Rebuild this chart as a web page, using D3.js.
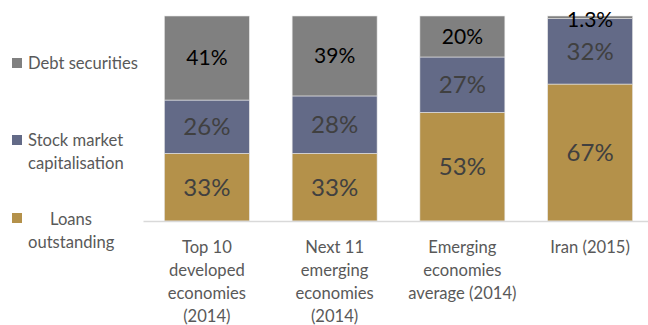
<!DOCTYPE html>
<html>
<head>
<meta charset="utf-8">
<script src="https://cdn.jsdelivr.net/npm/d3@7/dist/d3.min.js"></script>
<style>
  html, body { margin: 0; padding: 0; background: #fff; }
  svg { display: block; font-family: Lato, "Open Sans", "Noto Sans", sans-serif; }
</style>
</head>
<body>
<svg id="chart" width="648" height="325"></svg>
<script>
// Financing mix by economy group (shares of total, %)
const categories = [
  ["Top 10", "developed", "economies", "(2014)"],
  ["Next 11", "emerging", "economies", "(2014)"],
  ["Emerging", "economies", "average (2014)"],
  ["Iran (2015)"]
];
const seriesNames = ["Loans outstanding", "Stock market capitalisation", "Debt securities"];
const loans = [33, 33, 53, 67];
const stocks = [26, 28, 27, 32];
const debt = [41, 39, 20, 1.3];
const valueLabels = {
  loans: ["33%", "33%", "53%", "67%"],
  stocks: ["26%", "28%", "27%", "32%"],
  debt: ["41%", "39%", "20%", "1.3%"]
};

const keys = ["loans", "stocks", "debt"];
const colors = { loans: "#b4914a", stocks: "#636a87", debt: "#808080" };
const labelColors = { loans: "#404040", stocks: "#404040", debt: "#000000" };
const labelSizes = { loans: 24, stocks: 24, debt: 21 };

const rows = categories.map((c, i) => ({
  idx: i, loans: loans[i], stocks: stocks[i], debt: debt[i]
}));

const svg = d3.select("#chart");
const plot = { left: 143, right: 654, top: 16, bottom: 221 };

const x = d3.scaleBand()
  .domain(rows.map(d => d.idx))
  .range([plot.left, plot.right])
  .paddingInner(0.335)
  .paddingOuter(0.1675);

const y = d3.scaleLinear().domain([0, 1]).range([plot.bottom, plot.top]);

const stack = d3.stack().keys(keys).offset(d3.stackOffsetExpand);
const layers = stack(rows);

const g = svg.append("g");

layers.forEach(layer => {
  const k = layer.key;
  const lg = g.append("g");
  lg.selectAll("rect")
    .data(layer)
    .join("rect")
    .attr("x", d => x(d.data.idx))
    .attr("width", x.bandwidth())
    .attr("y", d => y(d[1]))
    .attr("height", d => y(d[0]) - y(d[1]))
    .attr("fill", colors[k])
    .attr("stroke", "#e6e6e6")
    .attr("stroke-width", 0.6);
  lg.selectAll("text")
    .data(layer)
    .join("text")
    .attr("x", d => x(d.data.idx) + x.bandwidth() / 2)
    .attr("y", d => {
      const mid = (y(d[0]) + y(d[1])) / 2;
      return Math.max(mid, plot.top + 4);
    })
    .attr("dy", "0.35em")
    .attr("text-anchor", "middle")
    .attr("font-size", labelSizes[k])
    .attr("fill", labelColors[k])
    .text(d => valueLabels[k][d.data.idx]);
});

// baseline axis
const xAxis = d3.axisBottom(x).tickSize(0).tickFormat("");
const ax = svg.append("g").attr("transform", `translate(0,${plot.bottom})`).call(xAxis);
ax.select(".domain").attr("stroke", "#d9d9d9").attr("stroke-width", 1.5);

// category labels
rows.forEach(d => {
  const t = svg.append("text")
    .attr("x", x(d.idx) + x.bandwidth() / 2)
    .attr("y", 253)
    .attr("text-anchor", "middle")
    .attr("font-size", 16.6)
    .attr("fill", "#595959");
  categories[d.idx].forEach((line, j) => {
    t.append("tspan")
      .attr("x", x(d.idx) + x.bandwidth() / 2)
      .attr("dy", j === 0 ? 0 : 23)
      .text(line);
  });
});

// legend
const legendItems = [
  { key: "debt", lines: [{ t: "Debt securities", x: 28, y: 69 }], sy: 58 },
  { key: "stocks", lines: [{ t: "Stock market", x: 28, y: 146 }, { t: "capitalisation", x: 28, y: 169 }], sy: 135 },
  { key: "loans", lines: [{ t: "Loans", x: 50, y: 225 }, { t: "outstanding", x: 28, y: 248 }], sy: 213 }
];
const leg = svg.append("g");
legendItems.forEach(it => {
  leg.append("rect")
    .attr("x", 12).attr("y", it.sy)
    .attr("width", 10).attr("height", 10)
    .attr("fill", colors[it.key]);
  it.lines.forEach(l => {
    leg.append("text")
      .attr("x", l.x).attr("y", l.y)
      .attr("font-size", 16.6)
      .attr("fill", "#595959")
      .text(l.t);
  });
});
</script>
</body>
</html>
